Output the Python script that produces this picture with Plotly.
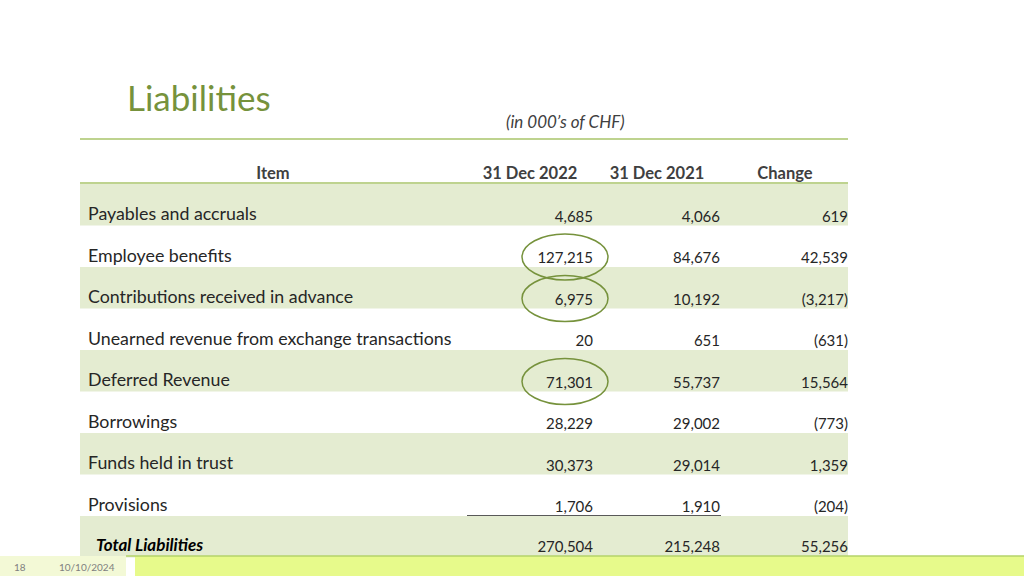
import plotly.graph_objects as go

# ---- data ----
items = [
    "Payables and accruals",
    "Employee benefits",
    "Contributions received in advance",
    "Unearned revenue from exchange transactions",
    "Deferred Revenue",
    "Borrowings",
    "Funds held in trust",
    "Provisions",
]
dec_2022 = [4685, 127215, 6975, 20, 71301, 28229, 30373, 1706]
dec_2021 = [4066, 84676, 10192, 651, 55737, 29002, 29014, 1910]
change = [619, 42539, -3217, -631, 15564, -773, 1359, -204]
total_label = "Total Liabilities"
total_2022 = 270504
total_2021 = 215248
total_change = 55256
headers = ["Item", "31 Dec 2022", "31 Dec 2021", "Change"]
circled_items = ["Employee benefits", "Contributions received in advance", "Deferred Revenue"]
title = "Liabilities"
subtitle = "(in 000’s of CHF)"
page_number = "18"
footer_date = "10/10/2024"

# ---- styles ----
FONT = "Lato, 'Open Sans', sans-serif"
TXT = "#262626"
OLIVE = "#76923c"
LINE_GREEN = "#a9c46a"
ROW_GREEN = "#e4ecd1"


def fmt(v):
    return f"({abs(v):,})" if v < 0 else f"{v:,}"


fig = go.Figure()

ROW_TOP0 = 184
ROW_H = 41.5
n = len(items)
shapes = []
# row backgrounds (alternating, including total row)
for i in range(n + 1):
    if i % 2 == 0:
        y0 = ROW_TOP0 + i * ROW_H
        shapes.append(dict(type="rect", xref="x", yref="y", x0=80, x1=848,
                           y0=y0, y1=y0 + ROW_H, fillcolor=ROW_GREEN,
                           line=dict(width=0), layer="below"))

# footer bars
shapes.append(dict(type="rect", x0=0, x1=126, y0=556, y1=576,
                   fillcolor="#f3f9d6", line=dict(width=0), layer="below"))
shapes.append(dict(type="rect", x0=135, x1=1024, y0=556, y1=576,
                   fillcolor="#e7fa8b", line=dict(width=0), layer="below"))
# lines
shapes.append(dict(type="line", x0=80, x1=848, y0=139, y1=139,
                   line=dict(color=LINE_GREEN, width=1.5)))
shapes.append(dict(type="line", x0=80, x1=848, y0=183, y1=183,
                   line=dict(color=LINE_GREEN, width=1.5)))
shapes.append(dict(type="line", x0=126, x1=1024, y0=556, y1=556,
                   line=dict(color="#b5d36a", width=1.5)))
shapes.append(dict(type="line", x0=467, x1=721, y0=515.5, y1=515.5,
                   line=dict(color="#595959", width=1)))

label_y = [ROW_TOP0 + i * ROW_H + 32 for i in range(n)]
val_y = [ROW_TOP0 + i * ROW_H + 34 for i in range(n)]
tot_y_lab = ROW_TOP0 + n * ROW_H + 31
tot_y_val = ROW_TOP0 + n * ROW_H + 32

# circles
for i, it in enumerate(items):
    if it in circled_items:
        cy = ROW_TOP0 + i * ROW_H + 31.5
        shapes.append(dict(type="circle", x0=522, x1=608, y0=cy - 23, y1=cy + 23,
                           line=dict(color=OLIVE, width=1.5)))

# item labels
fig.add_trace(go.Scatter(x=[88] * n, y=label_y, mode="text", text=items,
                         textposition="middle right",
                         textfont=dict(family=FONT, size=17.8, color=TXT),
                         hoverinfo="skip", showlegend=False))
# values
for col_x, vals, tot in [(593, dec_2022, total_2022), (720, dec_2021, total_2021),
                         (848, change, total_change)]:
    fig.add_trace(go.Scatter(x=[col_x] * (n + 1), y=val_y + [tot_y_val], mode="text",
                             text=[fmt(v) for v in vals] + [fmt(tot)],
                             textposition="middle left",
                             textfont=dict(family=FONT, size=15, color=TXT),
                             hoverinfo="skip", showlegend=False))
# total label
fig.add_trace(go.Scatter(x=[96], y=[tot_y_lab], mode="text",
                         text=[f"<b><i>{total_label}</i></b>"],
                         textposition="middle right",
                         textfont=dict(family=FONT, size=17, color="#000000"),
                         hoverinfo="skip", showlegend=False))
# headers
fig.add_trace(go.Scatter(x=[273, 530, 657, 785], y=[175] * 4, mode="text",
                         text=[f"<b>{h}</b>" for h in headers],
                         textposition="middle center",
                         textfont=dict(family=FONT, size=16.5, color="#404040"),
                         hoverinfo="skip", showlegend=False))

annotations = [
    dict(x=125, y=97, text=title, showarrow=False, xanchor="left", yanchor="middle",
         font=dict(family=FONT, size=35, color=OLIVE)),
    dict(x=504, y=121, text=f"<i>{subtitle}</i>", showarrow=False, xanchor="left",
         yanchor="middle", font=dict(family=FONT, size=17, color="#404040")),
    dict(x=20, y=567, text=page_number, showarrow=False, xanchor="center",
         yanchor="middle", font=dict(family=FONT, size=10, color="#7f7f7f")),
    dict(x=87, y=567, text=footer_date, showarrow=False, xanchor="center",
         yanchor="middle", font=dict(family=FONT, size=10, color="#7f7f7f")),
]

fig.update_layout(
    width=1024, height=576, margin=dict(l=0, r=0, t=0, b=0),
    paper_bgcolor="white", plot_bgcolor="white",
    xaxis=dict(range=[0, 1024], visible=False, fixedrange=True),
    yaxis=dict(range=[576, 0], visible=False, fixedrange=True),
    shapes=shapes, annotations=annotations, showlegend=False,
)
fig.write_html("out.html", config={"displayModeBar": False},
               post_script="document.body.style.margin='0';document.body.style.overflow='hidden';")
